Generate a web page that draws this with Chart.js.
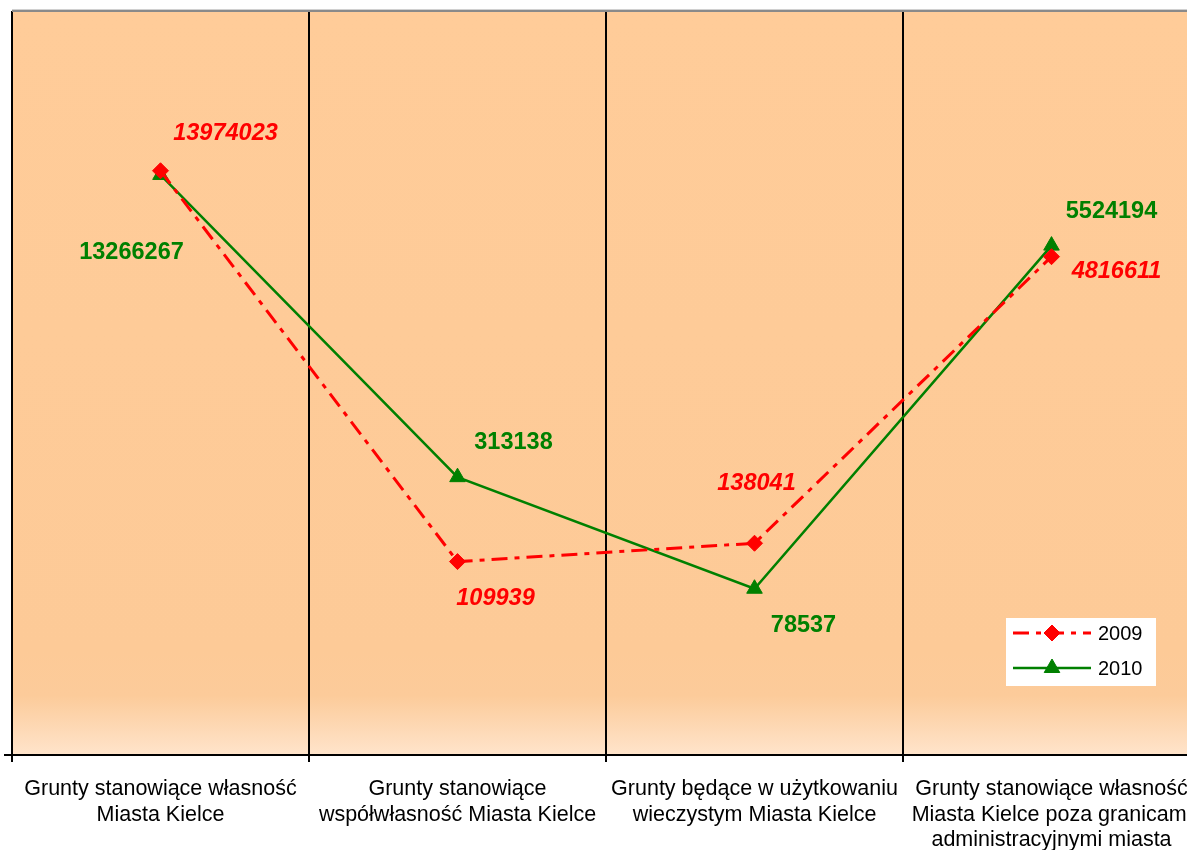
<!DOCTYPE html>
<html>
<head>
<meta charset="utf-8">
<script src="https://cdn.jsdelivr.net/npm/chart.js@4.4.1/dist/chart.umd.min.js"></script>
<style>
  html, body { margin: 0; padding: 0; background: #fff; overflow: hidden; }
  #wrap { width: 1210px; height: 850px; }
</style>
</head>
<body>
<div id="wrap"><canvas id="c" width="1210" height="850"></canvas></div>
<script>
// ---- data ----
const categories = [
  ["Grunty stanowiące własność", "Miasta Kielce"],
  ["Grunty stanowiące", "współwłasność Miasta Kielce"],
  ["Grunty będące w użytkowaniu", "wieczystym Miasta Kielce"],
  ["Grunty stanowiące własność", "Miasta Kielce poza granicami", "administracyjnymi miasta"]
];
const seriesNames = ["2009", "2010"];
const values2009 = [13974023, 109939, 138041, 4816611];
const values2010 = [13266267, 313138, 78537, 5524194];

// label offsets (pixels from the point) - layout only
const labelOffsets2009 = [[65, -37], [38, 37], [2, -60], [65, 15]];
const labelOffsets2010 = [[-29, 78], [56, -35], [49, 37], [60, -34]];

const FONT = '"Liberation Sans", Arial, sans-serif';

const bgPlugin = {
  id: 'bg',
  beforeDraw(chart) {
    const { ctx, chartArea: a } = chart;
    ctx.save();
    ctx.fillStyle = '#ffffff';
    ctx.fillRect(0, 0, chart.width, chart.height);
    const g = ctx.createLinearGradient(0, a.top, 0, a.bottom);
    g.addColorStop(0, '#FFCC99');
    g.addColorStop(0.86, '#FDCA97');
    g.addColorStop(0.92, '#FCCB9A');
    g.addColorStop(1, '#FFE4CB');
    ctx.fillStyle = g;
    ctx.fillRect(a.left, a.top, a.right - a.left, a.bottom - a.top);
    ctx.restore();
  },
  afterDraw(chart) {
    const { ctx, chartArea: a } = chart;
    ctx.save();
    ctx.fillStyle = '#8a8a8a';
    ctx.fillRect(a.left, a.top - 2, a.right - a.left, 2);
    ctx.fillStyle = '#d0d0d0';
    ctx.fillRect(a.left, a.top - 3, a.right - a.left, 1);
    ctx.strokeStyle = '#000';
    ctx.lineWidth = 2;
    ctx.beginPath();
    ctx.moveTo(a.left - 8, a.bottom);
    ctx.lineTo(a.left, a.bottom);
    ctx.stroke();
    ctx.restore();
  }
};

const labelPlugin = {
  id: 'vlabels',
  afterDatasetsDraw(chart) {
    const { ctx } = chart;
    const offs = [labelOffsets2009, labelOffsets2010];
    chart.data.datasets.forEach((ds, di) => {
      const meta = chart.getDatasetMeta(di);
      meta.data.forEach((pt, i) => {
        const o = offs[di][i];
        ctx.save();
        ctx.font = (di === 0 ? 'italic bold ' : 'bold ') + '23.5px ' + FONT;
        ctx.fillStyle = ds.borderColor;
        ctx.textAlign = 'center';
        ctx.textBaseline = 'middle';
        ctx.fillText(String(ds.data[i]), pt.x + o[0], pt.y + o[1]);
        ctx.restore();
      });
    });
  }
};

const legendPlugin = {
  id: 'customLegend',
  afterDraw(chart) {
    const { ctx } = chart;
    const x0 = 1006, y0 = 618, w = 150, h = 68;
    ctx.save();
    ctx.fillStyle = '#ffffff';
    ctx.fillRect(x0, y0, w, h);
    chart.data.datasets.forEach((ds, di) => {
      const y = y0 + 15 + di * 35;
      ctx.save();
      ctx.strokeStyle = ds.borderColor;
      ctx.lineWidth = ds.borderWidth;
      ctx.setLineDash(ds.borderDash || []);
      ctx.beginPath();
      ctx.moveTo(x0 + 7, y);
      ctx.lineTo(x0 + 85, y);
      ctx.stroke();
      ctx.restore();
      ctx.save();
      ctx.fillStyle = ds.pointBackgroundColor;
      ctx.strokeStyle = ds.pointBorderColor;
      ctx.lineWidth = 1;
      Chart.helpers.drawPoint(ctx, { pointStyle: ds.pointStyle, rotation: 0, borderWidth: 1, radius: ds.pointRadius }, x0 + 46, y);
      ctx.restore();
      ctx.fillStyle = '#000';
      ctx.font = '20px ' + FONT;
      ctx.textAlign = 'left';
      ctx.textBaseline = 'middle';
      ctx.fillText(ds.label, x0 + 92, y + 1);
    });
    ctx.restore();
  }
};

new Chart(document.getElementById('c'), {
  type: 'line',
  data: {
    labels: categories,
    datasets: [
      {
        label: seriesNames[0],
        data: values2009,
        borderColor: '#FF0000',
        backgroundColor: '#FF0000',
        borderWidth: 3,
        borderDash: [16, 7, 5, 7],
        pointStyle: 'rectRot',
        pointRadius: 8,
        pointHoverRadius: 8,
        pointBackgroundColor: '#FF0000',
        pointBorderColor: '#FF0000',
        pointBorderWidth: 1,
        tension: 0,
        fill: false
      },
      {
        label: seriesNames[1],
        data: values2010,
        borderColor: '#008000',
        backgroundColor: '#008000',
        borderWidth: 2.5,
        pointStyle: 'triangle',
        pointRadius: 9,
        pointHoverRadius: 9,
        pointBackgroundColor: '#008000',
        pointBorderColor: '#008000',
        pointBorderWidth: 1,
        tension: 0,
        fill: false
      }
    ]
  },
  options: {
    responsive: false,
    animation: false,
    events: [],
    layout: { padding: { top: 12, left: 0, right: 0, bottom: 0 } },
    plugins: {
      legend: { display: false },
      tooltip: { enabled: false },
      title: { display: false }
    },
    scales: {
      x: {
        type: 'category',
        offset: true,
        grid: {
          offset: true,
          color: '#000',
          lineWidth: 2,
          drawTicks: true,
          tickLength: 7,
          tickColor: '#000',
          tickWidth: 2
        },
        border: { display: true, color: '#000', width: 2 },
        ticks: {
          color: '#000',
          font: { family: FONT, size: 21.5, lineHeight: 1.2 },
          padding: 14,
          maxRotation: 0,
          autoSkip: false
        },
        afterFit(scale) { scale.height = 95; }
      },
      y: {
        type: 'logarithmic',
        min: 10000,
        max: 100000000,
        position: 'left',
        grid: { display: false, drawTicks: false },
        border: { display: true, color: '#000', width: 2 },
        ticks: { display: false },
        afterFit(scale) { scale.width = 12; }
      }
    }
  },
  plugins: [bgPlugin, labelPlugin, legendPlugin]
});
</script>
</body>
</html>
